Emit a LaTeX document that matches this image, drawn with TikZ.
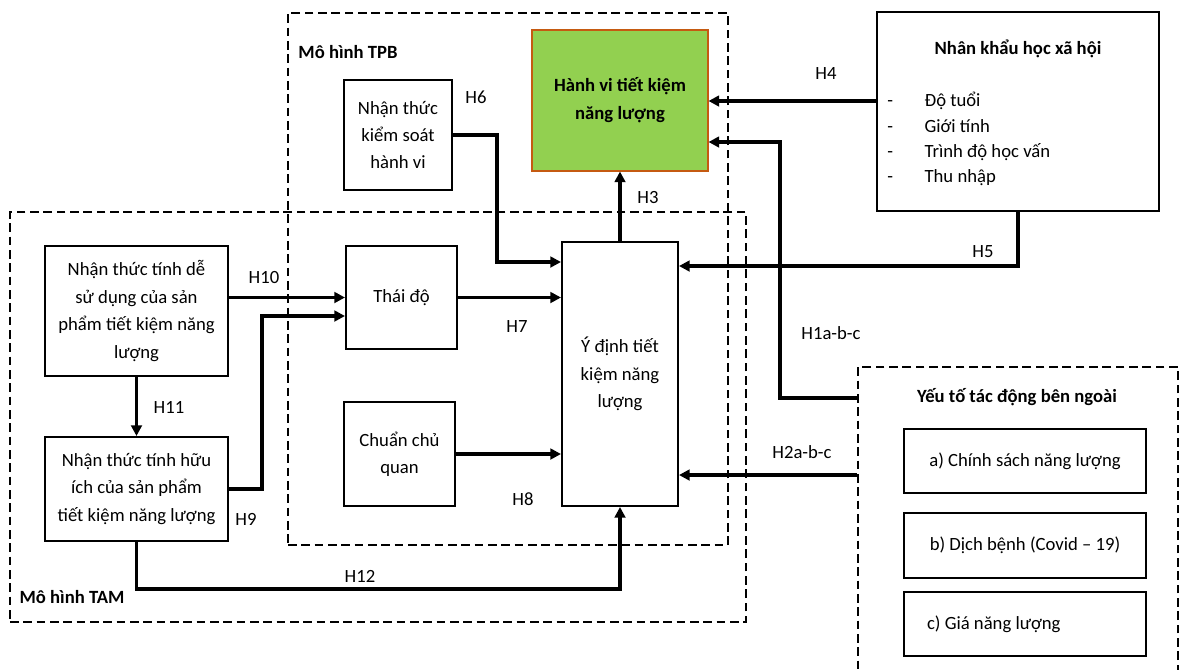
\documentclass[tikz,border=0pt]{standalone}
\usepackage{fontspec}
\setmainfont{Carlito}
\usetikzlibrary{arrows.meta,fit}
\begin{document}
\begin{tikzpicture}[x=0.75pt,y=-0.75pt,
  every node/.style={font=\fontsize{14}{20.6}\selectfont, inner sep=0pt},
  box/.style={draw, line width=1.5pt, fill=white, align=center},
  bx/.style 2 args={minimum width=#1*0.75pt, minimum height=#2*0.75pt},
  cont/.style={draw, line width=1.4pt, dash pattern=on 6.5pt off 3.5pt},
  arr/.style={line width=2.3pt, -{Triangle[length=8pt,width=8pt]}},
  ttl/.style={font=\fontsize{14}{20}\selectfont\bfseries}
]
\useasboundingbox (0,0) rectangle (1181,669);

% containers
\node[cont, fit={(288,13)(728,545)}, inner sep=0pt] (tpb) {};
\node[cont, fit={(10,212)(746,622)}, inner sep=0pt] (tam) {};
\node[cont, fit={(858,367)(1178,700)}, inner sep=0pt] (ext) {};

\node[ttl] (tpbt) at (348,52) {Mô hình TPB};
\node[ttl] (tamt) at (72,597) {Mô hình TAM};

% boxes
\node[box, bx={108}{110}] (pbc) at (398,135) {Nhận thức\\kiểm soát\\hành vi};
\node[box, bx={176}{141}, fill={rgb,255:red,146;green,208;blue,80},
      draw={rgb,255:red,197;green,90;blue,17}, line width=0.8pt,
      font=\fontsize{14}{21}\selectfont\bfseries] (beh) at (620,100.5) {Hành vi tiết kiệm\\năng lượng};
\node[box, bx={282}{199}] (soc) at (1018,111.5) {};
\node[ttl] (soct) at (1018,49) {Nhân khẩu học xã hội};
\node[anchor=west, align=left, font=\fontsize{14}{18.9}\selectfont] (socl) at (887,139)
  {\makebox[28pt][l]{-}Độ tuổi\\\makebox[28pt][l]{-}Giới tính\\\makebox[28pt][l]{-}Trình độ học vấn\\\makebox[28pt][l]{-}Thu nhập};

\node[box, bx={183}{130}] (ease) at (136.5,311) {Nhận thức tính dễ\\sử dụng của sản\\phẩm tiết kiệm năng\\lượng};
\node[box, bx={183}{104}] (use) at (136.5,489) {Nhận thức tính hữu\\ích của sản phẩm\\tiết kiệm năng lượng};
\node[box, bx={111}{103}] (att) at (401.5,297.5) {Thái độ};
\node[box, bx={111}{104}] (sn) at (399.5,454) {Chuẩn chủ\\quan};
\node[box, bx={116}{264}] (int) at (620,374) {Ý định tiết\\kiệm năng\\lượng};

\node[ttl] (extt) at (1017,397) {Yếu tố tác động bên ngoài};
\node[box, bx={242}{64}] (ea) at (1025,461) {a) Chính sách năng lượng};
\node[box, bx={242}{65}] (eb) at (1025,545.5) {b) Dịch bệnh (Covid -- 19)};
\node[box, bx={242}{64}] (ec) at (1025,624) {\makebox[147pt][l]{c) Giá năng lượng}};

% bend coordinates
\coordinate (c4) at (800,101);
\coordinate (c1a) at (780,398);
\coordinate (c1b) at (780,142);
\coordinate (c5) at (800,266);
\coordinate (c2) at (800,475);
\coordinate (c6) at (497,262);
\coordinate (c9) at (262,316);
\coordinate (c12) at (620,589);

% connectors
\draw[arr] (soc.west |- c4) -- (beh.east |- c4);
\draw[arr] (ext.west |- c1a) -- (c1a) -- (c1b) -- (beh.east |- c1b);
\draw[arr] (soc.south) |- (int.east |- c5);
\draw[arr] (ext.west |- c2) -- (int.east |- c2);
\draw[arr] (int.north) -- (beh.south);
\draw[arr] (pbc.east) -| (c6) -- (int.west |- c6);
\draw[arr] (att.east) -- (int.west |- att.east);
\draw[arr] (sn.east) -- (int.west |- sn.east);
\draw[arr] (ease.east |- att.west) -- (att.west);
\draw[arr] (use.east) -| (c9) -- (att.west |- c9);
\draw[arr] (ease.south) -- (use.north);
\draw[arr] (use.south) |- (c12) -- (int.south);

% labels
\node (l4) at (826,73) {H4};
\node (l1) at (831,333) {H1a-b-c};
\node (l5) at (983,252) {H5};
\node (l2) at (802,452) {H2a-b-c};
\node (l3) at (648,197) {H3};
\node (l6) at (476,97) {H6};
\node (l7) at (517,327) {H7};
\node (l8) at (523,499) {H8};
\node (l10) at (264,277) {H10};
\node (l9) at (246,519) {H9};
\node (l11) at (169,407) {H11};
\node (l12) at (360,576) {H12};
\end{tikzpicture}
\end{document}
